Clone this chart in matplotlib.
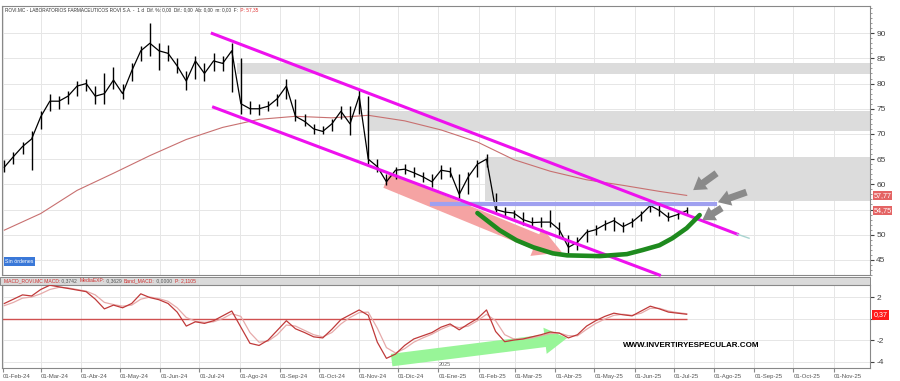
import numpy as np
import pandas as pd
import matplotlib
matplotlib.use('Agg')
import matplotlib.pyplot as plt
import matplotlib.dates as mdates
from matplotlib.patches import FancyArrowPatch, Rectangle
from matplotlib.ticker import MultipleLocator

plt.rcParams['font.family'] = ['Liberation Sans', 'DejaVu Sans']

# datos semanales
semanas = pd.date_range('2024-02-02', periods=76, freq='7D')
cierre = [63.4, 65.5, 67.5, 69.0, 73.4, 76.5, 76.5, 77.5, 79.5, 80.0,
          77.5, 78.0, 80.7, 78.0, 82.5, 86.5, 88.0, 86.5, 86.0, 83.5,
          80.5, 84.5, 82.0, 84.5, 84.0, 86.5, 76.0, 75.0, 75.0, 75.5,
          77.0, 79.5, 73.5, 72.5, 71.0, 70.5, 72.0, 74.5, 72.0, 77.5,
          65.0, 63.5, 60.5, 62.8, 63.0, 62.3, 61.5, 60.5, 62.8, 62.5,
          58.0, 61.5, 64.0, 65.0, 55.0, 54.5, 54.3, 53.0, 52.4, 52.5,
          52.5, 51.0, 47.5, 48.5, 50.5, 51.0, 52.0, 52.8, 51.6, 52.5,
          54.0, 55.8, 54.8, 53.4, 54.0, 54.75]
maximo = [64.8, 66.5, 68.5, 70.5, 74.5, 78.0, 77.5, 78.5, 80.5, 81.0,
          79.5, 82.0, 83.3, 80.0, 84.0, 87.5, 92.0, 88.0, 87.6, 85.0,
          82.5, 85.5, 84.0, 86.0, 85.5, 88.0, 85.0, 76.5, 76.0, 76.5,
          78.0, 81.0, 77.0, 74.0, 72.0, 71.5, 73.0, 75.5, 75.5, 79.0,
          77.5, 65.0, 62.0, 63.5, 64.0, 63.5, 62.5, 62.0, 63.8, 63.5,
          62.0, 62.5, 64.8, 66.0, 58.2, 55.5, 55.0, 54.5, 53.5, 53.5,
          55.0, 52.5, 50.0, 49.5, 51.2, 52.0, 53.0, 53.5, 52.5, 53.3,
          54.8, 56.3, 55.8, 54.5, 55.0, 55.5]
minimo = [62.5, 64.0, 66.0, 62.8, 71.0, 74.5, 75.0, 76.0, 77.5, 78.5,
          76.0, 76.0, 79.0, 77.0, 80.5, 84.5, 85.5, 82.6, 84.5, 82.0,
          78.7, 81.0, 80.5, 82.5, 82.5, 78.3, 74.0, 74.0, 73.8, 74.5,
          75.5, 77.0, 72.5, 71.5, 70.0, 70.0, 70.5, 73.0, 69.8, 74.0,
          64.0, 62.5, 59.8, 61.0, 62.0, 61.5, 60.5, 59.5, 61.0, 61.5,
          56.9, 58.0, 61.5, 63.5, 54.5, 53.5, 53.3, 52.0, 51.8, 51.5,
          51.5, 50.0, 46.0, 47.0, 48.5, 50.0, 51.0, 50.8, 50.5, 51.5,
          52.8, 54.5, 53.8, 52.8, 53.2, 54.0]

# media 200 sesiones, cada 4 semanas + ultima
mm200_fechas = list(semanas[::4]) + [semanas[-1]]
mm200 = [50.9, 54.2, 58.8, 62.2, 65.7, 68.9, 71.3, 72.9, 73.5, 73.2,
         73.7, 72.6, 70.8, 68.4, 64.9, 62.6, 60.9, 59.8, 58.6, 57.8]

macd = [1.4, 1.8, 2.2, 2.1, 2.7, 3.1, 2.95, 2.8, 2.65, 2.5,
        1.8, 0.9, 1.25, 1.0, 1.4, 2.3, 1.95, 1.75, 1.4, 0.6,
        -0.7, -0.3, -0.45, -0.2, 0.25, 0.7, -0.8, -2.3, -2.5, -2.0,
        -1.1, -0.2, -0.95, -1.3, -1.7, -1.8, -1.0, -0.1, 0.35, 0.8,
        0.3, -2.2, -3.7, -3.3, -2.5, -1.9, -1.6, -1.3, -0.8, -0.5,
        -1.05, -0.5, 0.0, 0.8, -1.2, -2.15, -2.0, -1.9, -1.7, -1.5,
        -1.25, -1.35, -1.8, -1.5, -0.7, -0.2, 0.2, 0.5, 0.35, 0.25,
        0.7, 1.15, 0.9, 0.6, 0.5, 0.4]
senal = [1.2, 1.5, 1.9, 2.0, 2.3, 2.7, 2.9, 2.85, 2.7, 2.55,
         2.2, 1.5, 1.3, 1.15, 1.25, 1.8, 2.0, 1.85, 1.6, 1.0,
         0.1, -0.25, -0.35, -0.3, 0.0, 0.45, 0.2, -1.3, -2.2, -2.1,
         -1.5, -0.6, -0.7, -1.1, -1.5, -1.7, -1.3, -0.5, 0.1, 0.55,
         0.6, -0.9, -2.7, -3.2, -2.8, -2.2, -1.8, -1.45, -1.0, -0.65,
         -0.85, -0.7, -0.2, 0.4, -0.2, -1.5, -1.9, -1.9, -1.8, -1.6,
         -1.4, -1.35, -1.6, -1.6, -1.0, -0.45, -0.05, 0.3, 0.4, 0.3,
         0.5, 0.95, 0.95, 0.7, 0.55, 0.45]

# dibujos del analista
canal_sup = (['2024-07-11', '2025-08-19'], [89.94, 50.1])
canal_inf = (['2024-07-12', '2025-06-20'], [75.3, 42.0])
zonas = [('2024-07-30', 81.8, 84.1), ('2024-11-07', 70.6, 74.5), ('2025-02-06', 56.7, 65.4)]
soporte = (['2024-12-27', '2025-08-02'], 56.1)
curva_fechas = ['2025-01-31', '2025-02-17', '2025-03-02', '2025-03-15', '2025-03-30',
                '2025-04-10', '2025-05-05', '2025-05-26', '2025-06-07', '2025-06-20',
                '2025-06-30', '2025-07-11', '2025-07-21']
curva_precios = [54.3, 50.9, 48.9, 47.5, 46.3, 45.9, 45.75, 46.15, 46.95, 47.9,
                 49.3, 51.3, 53.9]
flecha_roja = (('2024-11-22', 60.8), ('2025-04-06', 46.5))
flecha_verde = (('2024-11-26', -3.86), ('2025-04-10', -1.81))
flechas_grises = [(('2025-08-03', 62.2), ('2025-07-16', 58.85)),
                  (('2025-08-26', 58.45), ('2025-08-04', 56.45)),
                  (('2025-08-07', 55.3), ('2025-07-23', 52.9))]

meses = ['Ene', 'Feb', 'Mar', 'Abr', 'May', 'Jun', 'Jul', 'Ago', 'Sep', 'Oct', 'Nov', 'Dic']
ticks = pd.date_range('2024-02-01', '2025-11-01', freq='MS')
etiquetas = ['01-%s-%s' % (meses[t.month - 1], t.strftime('%y')) for t in ticks]

x_ini = pd.Timestamp('2024-01-31 05:00')
x_fin = pd.Timestamp('2025-11-29')


def d(s):
    return mdates.date2num(pd.Timestamp(s))


fig = plt.figure(figsize=(9, 3.81), dpi=100)
ax1 = fig.add_axes([0.0022, 0.2782, 0.9644, 0.7061])
ax2 = fig.add_axes([0.0022, 0.034, 0.9644, 0.218], sharex=ax1)
fig.patches.append(Rectangle((0.0, 0.252), 0.9666, 0.021, transform=fig.transFigure,
                             facecolor='#dadada', edgecolor='#777777', lw=0.6, zorder=-1))

for ax in (ax1, ax2):
    ax.set_xlim(x_ini, x_fin)
    ax.set_xticks(ticks)
    ax.grid(True, color='#e6e6e6', lw=0.7)
    ax.set_axisbelow(True)
    ax.yaxis.tick_right()
    for s in ax.spines.values():
        s.set_color('#888888')
        s.set_linewidth(0.8)
    ax.tick_params(axis='y', labelsize=6, colors='#444444', length=3, pad=1.5)

# panel principal
ax1.set_ylim(42.0, 95.4)
ax1.set_yticks(range(45, 95, 5))
ax1.set_yticklabels(['45', '50', '', '60', '65', '70', '75', '80', '85', '90'])
ax1.yaxis.set_minor_locator(MultipleLocator(1))
ax1.tick_params(axis='y', which='minor', length=1.5, color='#888888')
ax1.tick_params(axis='x', labelbottom=False, length=0)

for ini, lo, hi in zonas:
    ax1.fill_between([d(ini), d(x_fin)], lo, hi, color='#dcdcdc', lw=0, zorder=1)

ax1.plot(mm200_fechas, mm200, color='#c87070', lw=0.8, zorder=2)

a, b = flecha_roja
ax1.add_patch(FancyArrowPatch((d(a[0]), a[1]), (d(b[0]), b[1]),
                              arrowstyle='simple,head_width=1.1,head_length=1.0,tail_width=0.58',
                              mutation_scale=20, color='#f5a3a3', lw=0, zorder=2.5,
                              shrinkA=0, shrinkB=0))

# barras semanales: rango maximo-minimo y linea de cierres
ax1.vlines(semanas, minimo, maximo, color='black', lw=1.0, zorder=3)
ax1.plot(semanas, cierre, color='black', lw=0.9, zorder=3)

ax1.plot(pd.to_datetime(soporte[0]), [soporte[1]] * 2, color='#9fa0f0', lw=3, zorder=3.5)
ax1.plot(pd.to_datetime(canal_sup[0]), canal_sup[1], color='#ee11ee', lw=2.2, zorder=4)
ax1.plot(pd.to_datetime(['2025-08-19', '2025-08-28']), [50.1, 49.3], color='#a8d4d0', lw=1, zorder=4)
ax1.plot(pd.to_datetime(canal_inf[0]), canal_inf[1], color='#ee11ee', lw=2.2, zorder=4,
         clip_on=False)
ax1.plot(pd.to_datetime(curva_fechas), curva_precios, color='#1e8a1e', lw=3.3, zorder=5,
         solid_capstyle='round')

for a, b in flechas_grises:
    ax1.add_patch(FancyArrowPatch((d(a[0]), a[1]), (d(b[0]), b[1]),
                                  arrowstyle='simple,head_width=1.15,head_length=0.9,tail_width=0.5',
                                  mutation_scale=10, color='#8a8a8a', lw=0, zorder=5,
                                  shrinkA=0, shrinkB=0))

tr = ax1.get_yaxis_transform()
for val, txt in [(57.77, '57,77'), (54.75, '54,75')]:
    ax1.text(1.004, val, txt, transform=tr, fontsize=5.2, color='white', va='center',
             ha='left', bbox=dict(boxstyle='square,pad=0.12', fc='#e46464', ec='none'),
             zorder=10, clip_on=False)

t1 = ax1.text(0.003, 0.997, 'ROVI.MC - LABORATORIOS FARMACEUTICOS ROVI S.A. -  1 d  Dif. %: 0,00  '
              'Dif.: 0,00  Ab: 0,00  m: 0,00  F: ', transform=ax1.transAxes, fontsize=3.4,
              color='#333333', va='top', ha='left')
ax1.annotate(' P: 57,35', xy=(1, 0), xycoords=t1, fontsize=3.4, color='#e03030', va='bottom')

ax1.text(0.004, 0.05, 'Sin órdenes', transform=ax1.transAxes, fontsize=3.8, color='white',
         va='center', ha='left', bbox=dict(boxstyle='square,pad=0.3', fc='#3a78d8', ec='none'))

# panel MACD
ax2.set_ylim(-4.6, 3.12)
ax2.set_yticks([2, 0, -2, -4])
ax2.set_yticklabels(['2', '', '-2', '-4'])
ax2.set_xticklabels(etiquetas, fontsize=4.3, color='#555555', ha='left')
ax2.tick_params(axis='x', length=3, pad=1.5, color='#888888')

ax2.hlines(0, x_ini, semanas[-1], color='#d05050', lw=1, zorder=2)
a, b = flecha_verde
ax2.add_patch(FancyArrowPatch((d(a[0]), a[1]), (d(b[0]), b[1]),
                              arrowstyle='simple,head_width=0.95,head_length=0.8,tail_width=0.45',
                              mutation_scale=20, color='#98f598', lw=0, zorder=1.5,
                              shrinkA=0, shrinkB=0))
ax2.plot(semanas, senal, color='#e6aaaa', lw=0.9, zorder=3)
ax2.plot(semanas, macd, color='#c03a3a', lw=0.9, zorder=3)

ax2.text(1.004, 0.37, '0,37', transform=ax2.get_yaxis_transform(), fontsize=5.2, color='white',
         va='center', ha='left', bbox=dict(boxstyle='square,pad=0.2', fc='#ff1a1a', ec='none'),
         clip_on=False)
ax2.text(pd.Timestamp('2025-01-01'), -4.45, '2025', fontsize=4, color='#666666', ha='left')

# cabecera del MACD, trozos encadenados
piezas = [('MACD_ROVI.MC MACD:', '#d03030'), (' 0,3742  ', '#555555'),
          ('MediaEXP:', '#d03030'), (' 0,3629  ', '#555555'),
          ('Band_MACD:', '#d03030'), (' 0,0000  ', '#555555'), ('P: 2,1105', '#d03030')]
ant = fig.text(0.004, 0.2625, piezas[0][0], fontsize=3.6, color=piezas[0][1], va='center')
for txt, col in piezas[1:]:
    ant = ax2.annotate(txt, xy=(1, 0), xycoords=ant, fontsize=3.6, color=col, va='bottom',
                       annotation_clip=False)
    ant.set_clip_on(False)

fig.text(0.768, 0.092, 'WWW.INVERTIRYESPECULAR.COM', fontsize=5.8, fontweight='bold',
         color='black', ha='center', va='center')

fig.savefig('out.png', dpi=100)
